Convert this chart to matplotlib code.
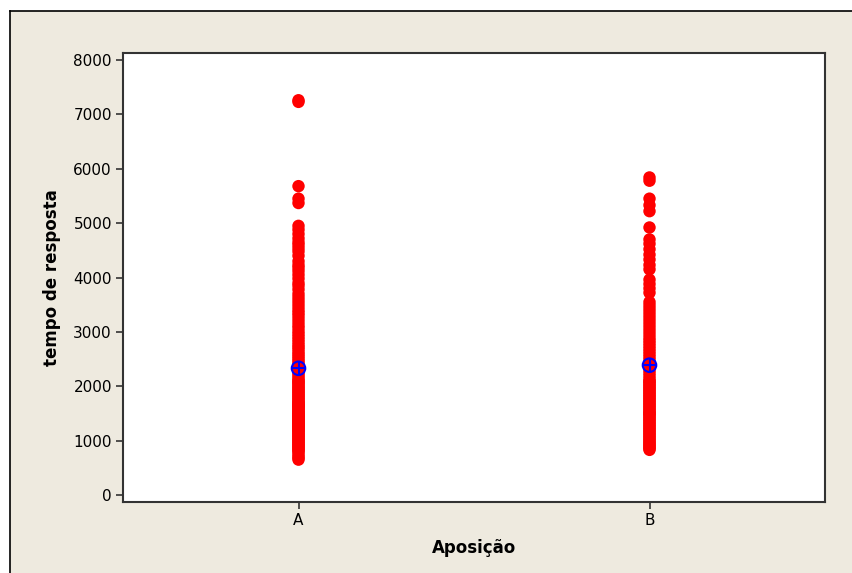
import numpy as np
import matplotlib.pyplot as plt
from matplotlib.patches import Rectangle
from matplotlib.lines import Line2D

# Individual values per group
groups = ['A', 'B']

values_a = [
    7260, 7230, 5680, 5450, 5370,
    4950, 4880, 4800, 4720, 4650, 4600, 4540, 4480, 4400,
    4300, 4230, 4180, 4120, 4050, 3980, 3900, 3850, 3780, 3700,
    3640, 3580, 3520, 3460, 3400, 3350, 3300, 3240, 3180, 3120,
    3070, 3010, 2960, 2910, 2860, 2810, 2760, 2720, 2680, 2630,
    2590, 2550, 2510, 2470, 2430, 2390, 2350, 2310, 2270, 2230,
    2190, 2150, 2110, 2070, 2030, 1990, 1950, 1910, 1870, 1830,
    1790, 1750, 1710, 1670, 1630, 1590, 1550, 1510, 1470, 1430,
    1390, 1350, 1310, 1270, 1230, 1190, 1150, 1110, 1070, 1030,
    990, 950, 910, 870, 830, 790, 750, 710, 680, 650,
    2100, 2050, 1980, 1920, 1860, 1800, 1740, 1690, 1650, 1600,
    1560, 1520, 1480, 1440, 1400, 1370, 1330, 1290, 1250, 1210,
    1180, 1140, 1100, 1060, 1020, 980, 940, 900, 860, 820,
    1500, 1450, 1410, 1380, 1340, 1300, 1260, 1220, 1620, 1680,
]

values_b = [
    5840, 5780, 5450, 5330, 5220, 4920, 4700, 4620, 4520, 4420,
    4330, 4230, 4150, 3960, 3880, 3800, 3720,
    3550, 3490, 3430, 3370, 3310, 3250, 3190, 3130, 3070, 3010,
    2950, 2890, 2840, 2790, 2740, 2690, 2640, 2590, 2540, 2490,
    2440, 2390, 2340, 2290, 2240, 2190, 2140, 2090, 2040, 1990,
    1940, 1890, 1840, 1790, 1740, 1690, 1640, 1590, 1540, 1490,
    1440, 1390, 1340, 1290, 1240, 1190, 1140, 1090, 1040, 990,
    940, 890, 850, 830,
    2100, 2060, 2010, 1960, 1910, 1860, 1810, 1760, 1710, 1660,
    1610, 1560, 1510, 1460, 1410, 1360, 1310, 1260, 1210, 1160,
    1110, 1060, 1010, 960, 920, 880, 1500,
]

yticks = [0, 1000, 2000, 3000, 4000, 5000, 6000, 7000, 8000]

beige = '#EEEADF'
fig = plt.figure(figsize=(8.52, 5.73), dpi=100)
fig.patch.set_facecolor('white')

# Minitab-style beige frame with a black line on top and left
fig.patches.append(Rectangle((10 / 852, 0), 1, 1 - 11 / 573, transform=fig.transFigure,
                             facecolor=beige, edgecolor='none', zorder=-2))
fig.lines.append(Line2D([10 / 852, 1], [1 - 11 / 573] * 2, transform=fig.transFigure,
                        color='black', lw=1.2, zorder=-1))
fig.lines.append(Line2D([10 / 852] * 2, [0, 1 - 11 / 573], transform=fig.transFigure,
                        color='black', lw=1.2, zorder=-1))

ax = fig.add_axes([123 / 852, 1 - 502 / 573, 702 / 852, 449 / 573])
ax.set_zorder(1)
ax.set_facecolor('white')

for i, vals in enumerate([values_a, values_b], start=1):
    ax.scatter([i] * len(vals), vals, s=80, color='#FF0000', edgecolors='none', zorder=2)
    m = np.mean(vals)
    ax.scatter([i], [m], s=95, facecolors='none', edgecolors='#0000FF', linewidths=1.5, zorder=3)
    ax.scatter([i], [m], s=95, marker='+', color='#0000FF', linewidths=1.5, zorder=3)

ax.set_xlim(0.5, 2.5)
ax.set_ylim(-129, 8129)
ax.set_xticks([1, 2])
ax.set_xticklabels(groups)
ax.set_yticks(yticks)
ax.set_yticklabels([str(t) for t in yticks])

for s in ax.spines.values():
    s.set_color('#333333')
    s.set_linewidth(1.5)
ax.tick_params(direction='out', length=5, width=1.2, color='#333333',
               labelsize=11, labelcolor='black', pad=3)

ax.set_xlabel('Aposição', fontsize=12, fontweight='bold', labelpad=8)
ax.set_ylabel('tempo de resposta', fontsize=12, fontweight='bold', labelpad=9)

fig.savefig('out.png', dpi=100, facecolor=fig.get_facecolor())
